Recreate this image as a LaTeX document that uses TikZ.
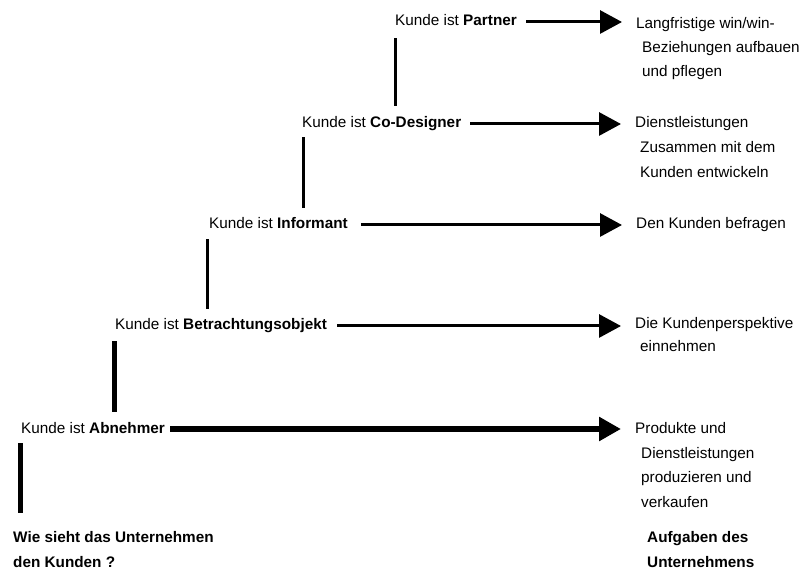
\documentclass[tikz,border=0pt]{standalone}
\usepackage{fontspec}
\setmainfont{Liberation Sans}
\usetikzlibrary{arrows.meta}
\begin{document}
\begin{tikzpicture}[x=1pt,y=-1pt,
  txt/.style={anchor=base west,inner sep=0pt,text height=11pt,text depth=3pt,
    font=\fontsize{15.3}{18}\selectfont},
  bold/.style={txt,font=\fontsize{15.3}{18}\selectfont\bfseries},
  hline/.style={line width=3pt,-{Triangle[length=22pt,width=23pt]},
    shorten <=9pt,shorten >=14pt},
  vline/.style={line width=3pt},
  heavy/.style={line width=5.5pt}]
\useasboundingbox (0,0) rectangle (806,569);

% customer roles, from top to bottom
\node[txt] (l1) at (395,26)  {Kunde ist \textbf{Partner}};
\node[txt] (l2) at (302,128) {Kunde ist \textbf{Co-Designer}};
\node[txt] (l3) at (209,229) {Kunde ist \textbf{Informant}};
\node[txt] (l4) at (115,330) {Kunde ist \textbf{Betrachtungsobjekt}};
\node[txt] (l5) at (21,433)  {Kunde ist \textbf{Abnehmer}};

% tasks of the company
\node[txt] (r1)  at (636,29)  {Langfristige win/win-};
\node[txt] (r1b) at (642,53)  {Beziehungen aufbauen};
\node[txt] (r1c) at (642,77)  {und pflegen};
\node[txt] (r2)  at (635,128) {Dienstleistungen};
\node[txt] (r2b) at (640,153) {Zusammen mit dem};
\node[txt] (r2c) at (640,178) {Kunden entwickeln};
\node[txt] (r3)  at (636,229) {Den Kunden befragen};
\node[txt] (r4)  at (635,329) {Die Kundenperspektive};
\node[txt] (r4b) at (640,352) {einnehmen};
\node[txt] (r5)  at (635,433) {Produkte und};
\node[txt] (r5b) at (641,458) {Dienstleistungen};
\node[txt] (r5c) at (641,482) {produzieren und};
\node[txt] (r5d) at (641,507) {verkaufen};

% column headings
\node[bold] (q1) at (13,542)  {Wie sieht das Unternehmen};
\node[bold] (q2) at (13,567)  {den Kunden ?};
\node[bold] (a1) at (647,542) {Aufgaben des};
\node[bold] (a2) at (647,567) {Unternehmens};

% arrows from each role to its task
\draw[hline] (l1.east) -- (l1.east -| r1.west);
\draw[hline] (l2.east) -- (l2.east -| r2.west);
\draw[hline,shorten <=13pt] (l3.east) -- (l3.east -| r3.west);
\draw[hline,shorten <=10pt] (l4.east) -- (l4.east -| r4.west);
\draw[hline,heavy,shorten <=5pt] (l5.east) -- (l5.east -| r5.west);

% steps of the staircase
\draw[vline] ([yshift=-9pt]l1.south west) -- ([yshift=11pt]l1.west |- l2.north);
\draw[vline] ([xshift=1pt,yshift=-6pt]l2.south west) -- ([xshift=1pt,yshift=10pt]l2.west |- l3.north);
\draw[vline] ([xshift=-2pt,yshift=-7pt]l3.south west) -- ([xshift=-2pt,yshift=10pt]l3.west |- l4.north);
\draw[heavy] ([xshift=-0.5pt,yshift=-8pt]l4.south west) -- ([xshift=-0.5pt,yshift=10pt]l4.west |- l5.north);
\draw[heavy] ([xshift=-0.5pt,yshift=-7pt]l5.south west) -- ([xshift=-0.5pt,yshift=18pt]l5.west |- q1.north);
\end{tikzpicture}
\end{document}
